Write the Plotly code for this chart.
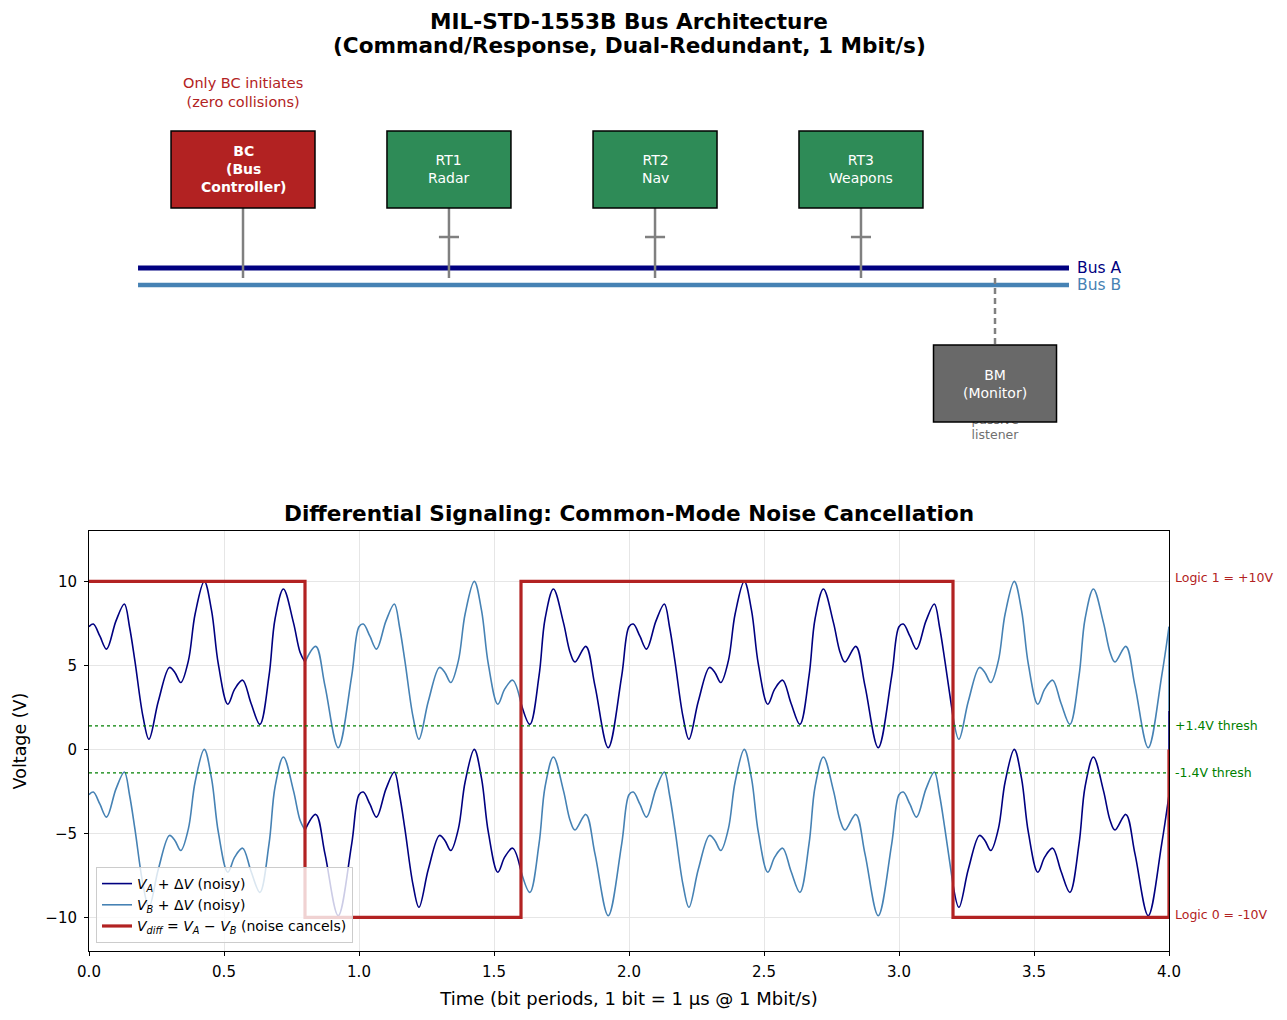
import plotly.graph_objects as go

# ---------------- data ----------------
# common-mode noise dV over one bit period (phase 0..1)
noise_phase = [0.000, 0.016, 0.040, 0.065, 0.100, 0.131, 0.150, 0.170, 0.200, 0.222,
               0.257, 0.298, 0.318, 0.340, 0.368, 0.393, 0.427, 0.454, 0.479, 0.514,
               0.540, 0.569, 0.600, 0.633, 0.667, 0.689, 0.720, 0.757, 0.782, 0.800,
               0.840, 0.874, 0.923, 0.973]
noise_dv = [2.30, 2.46, 1.75, 0.97, 2.65, 3.65, 2.30, 0.27, -3.05, -4.40,
            -2.12, -0.12, -0.42, -1.02, 0.27, 3.06, 5.00, 3.26, 0.07, -2.31,
            -1.40, -0.88, -2.25, -3.51, -0.60, 2.76, 4.55, 2.56, 0.77, 0.20,
            1.13, -1.22, -4.90, -0.62]
n_periods = 4
run_starts = [0.0, 0.8, 1.6, 3.2]
run_ends = [0.8, 1.6, 3.2, 4.0]
run_bits = [1, 0, 1, 0]
after_level = 0          # line level after the last bit
v_single = 5.0           # single-ended amplitude (V)
thresholds = [1.4, -1.4]

x_ticks = [0.0, 0.5, 1.0, 1.5, 2.0, 2.5, 3.0, 3.5, 4.0]
y_ticks = [-10, -5, 0, 5, 10]

node_names = ["BC<br>(Bus<br>Controller)", "RT1<br>Radar", "RT2<br>Nav", "RT3<br>Weapons"]
node_kinds = ["bc", "rt", "rt", "rt"]
monitor_name = "BM<br>(Monitor)"
monitor_note = ["passive", "listener"]
bc_note = "Only BC initiates<br>(zero collisions)"
bus_names = ["Bus A", "Bus B"]
title_lines = ["MIL-STD-1553B Bus Architecture", "(Command/Response, Dual-Redundant, 1 Mbit/s)"]

# ---------------- diagram layout (top panel units 0..10) ----------------
node_x = [1.426, 3.333, 5.241, 7.148]
node_w = {"bc": 1.333, "rt": 1.148}
node_fill = {"bc": "#b22222", "rt": "#2e8b57"}
box_y0, box_y1 = 6.39, 8.27
mon_x, mon_w, mon_y0, mon_y1 = 8.389, 1.139, 1.17, 3.05
note_y = [1.195, 0.829]
bus_y = [4.927, 4.512]
bus_colors = ["#000080", "#4682b4"]
bus_x0, bus_x1 = 0.454, 9.074
stub_end = 4.683
cross_y, cross_hw = 5.683, 0.093

FONT = "DejaVu Sans"

# ---------------- build series ----------------
t_all, dv_all = [], []
for k in range(n_periods):
    for p, d in zip(noise_phase, noise_dv):
        t_all.append(round(k + p, 4))
        dv_all.append(d)
t_all.append(float(n_periods))
dv_all.append(noise_dv[0])

def sgn(b):
    return 1 if b == 1 else -1

xa, ya, yb = [], [], []
cx, cya, cyb = [], [], []
for i, (s, e, b) in enumerate(zip(run_starts, run_ends, run_bits)):
    lev = sgn(b) * v_single
    for t, d in zip(t_all, dv_all):
        if s - 1e-9 <= t <= e + 1e-9:
            xa.append(t); ya.append(lev + d); yb.append(-lev + d)
    xa.append(None); ya.append(None); yb.append(None)
    d_end = dv_all[min(range(len(t_all)), key=lambda j: abs(t_all[j] - e))]
    nxt = sgn(run_bits[i + 1]) * v_single if i + 1 < len(run_bits) else after_level * v_single
    cx += [e, e, None]
    cya += [lev + d_end, nxt + d_end, None]
    cyb += [-lev + d_end, -nxt + d_end, None]

diff_x = run_starts + [run_ends[-1]]
diff_y = [2 * sgn(b) * v_single for b in run_bits] + [after_level * 2 * v_single]

fig = go.Figure()

# ---- top panel: passive listener note (partly under the monitor box) ----
fig.add_trace(go.Scatter(x=[mon_x] * len(monitor_note), y=note_y, mode="text", text=monitor_note,
                         textfont=dict(family=FONT, size=12.5, color="#707070"),
                         showlegend=False, hoverinfo="skip", xaxis="x", yaxis="y"))

# ---- bottom panel ----
navy, steel, red = "#000080", "#4682b4", "#b22222"
fig.add_trace(go.Scatter(x=xa, y=ya, mode="lines", line=dict(color=navy, width=1.6, shape="spline"),
                         name="<i>V<sub>A</sub></i> + Δ<i>V</i> (noisy)", legendgroup="a",
                         connectgaps=False, xaxis="x2", yaxis="y2"))
fig.add_trace(go.Scatter(x=cx, y=cya, mode="lines", line=dict(color=navy, width=1.6),
                         showlegend=False, legendgroup="a", xaxis="x2", yaxis="y2"))
fig.add_trace(go.Scatter(x=xa, y=yb, mode="lines", line=dict(color=steel, width=1.6, shape="spline"),
                         name="<i>V<sub>B</sub></i> + Δ<i>V</i> (noisy)", legendgroup="b",
                         connectgaps=False, xaxis="x2", yaxis="y2"))
fig.add_trace(go.Scatter(x=cx, y=cyb, mode="lines", line=dict(color=steel, width=1.6),
                         showlegend=False, legendgroup="b", xaxis="x2", yaxis="y2"))
fig.add_trace(go.Scatter(x=diff_x, y=diff_y, mode="lines", line=dict(color=red, width=3.2, shape="hv"),
                         name="<i>V<sub>diff</sub></i> = <i>V<sub>A</sub></i> − <i>V<sub>B</sub></i> (noise cancels)",
                         xaxis="x2", yaxis="y2"))

shapes = []
annotations = []

# buses
for by, bc in zip(bus_y, bus_colors):
    shapes.append(dict(type="line", xref="x", yref="y", x0=bus_x0, x1=bus_x1, y0=by, y1=by,
                       line=dict(color=bc, width=5 if bc == bus_colors[0] else 4.5)))
for by, bc, nm in zip(bus_y, bus_colors, bus_names):
    annotations.append(dict(xref="x", yref="y", x=bus_x1 + 0.06, y=by, text=nm, showarrow=False,
                            xanchor="left", yanchor="middle",
                            font=dict(family=FONT, size=15.5, color=bc)))
# stubs and boxes
for nx, kind, nm in zip(node_x, node_kinds, node_names):
    shapes.append(dict(type="line", xref="x", yref="y", x0=nx, x1=nx, y0=box_y0, y1=stub_end,
                       line=dict(color="#808080", width=2.5)))
    if kind == "rt":
        shapes.append(dict(type="line", xref="x", yref="y", x0=nx - cross_hw, x1=nx + cross_hw,
                           y0=cross_y, y1=cross_y, line=dict(color="#808080", width=2.5)))
    w = node_w[kind]
    shapes.append(dict(type="rect", xref="x", yref="y", x0=nx - w / 2, x1=nx + w / 2,
                       y0=box_y0, y1=box_y1, fillcolor=node_fill[kind],
                       line=dict(color="black", width=1.5), layer="above"))
    txt = "<b>" + nm + "</b>" if kind == "bc" else nm
    annotations.append(dict(xref="x", yref="y", x=nx, y=(box_y0 + box_y1) / 2, text=txt,
                            showarrow=False, font=dict(family=FONT, size=14, color="white")))
# monitor
shapes.append(dict(type="line", xref="x", yref="y", x0=mon_x, x1=mon_x, y0=stub_end, y1=mon_y1,
                   line=dict(color="#808080", width=2.5, dash="6px,4px")))
shapes.append(dict(type="rect", xref="x", yref="y", x0=mon_x - mon_w / 2, x1=mon_x + mon_w / 2,
                   y0=mon_y0, y1=mon_y1, fillcolor="#696969",
                   line=dict(color="black", width=1.5), layer="above"))
annotations.append(dict(xref="x", yref="y", x=mon_x, y=(mon_y0 + mon_y1) / 2, text=monitor_name,
                        showarrow=False, font=dict(family=FONT, size=14, color="white")))
annotations.append(dict(xref="x", yref="y", x=node_x[0], y=9.2, text=bc_note, showarrow=False,
                        font=dict(family=FONT, size=14.5, color="#b22222")))

# thresholds
for th in thresholds:
    shapes.append(dict(type="line", xref="x2 domain", yref="y2", x0=0, x1=1, y0=th, y1=th,
                       line=dict(color="green", width=1.2, dash="dot")))
right_notes = [(10, "Logic 1 = +10V", red, 4), (1.4, "+1.4V thresh", "green", 0),
               (-1.4, "-1.4V thresh", "green", 0), (-10, "Logic 0 = -10V", red, 3)]
for yv, txt, col, ys in right_notes:
    annotations.append(dict(xref="x2 domain", yref="y2", x=1.0, y=yv, xshift=4, yshift=ys,
                            text=txt, showarrow=False, xanchor="left", yanchor="middle",
                            font=dict(family=FONT, size=12.5, color=col)))

# titles
for ln, yp in zip(title_lines, [1.0427, 1.0168]):
    annotations.append(dict(xref="paper", yref="paper", x=0.5, y=yp, yanchor="middle",
                            text="<b>" + ln + "</b>", showarrow=False,
                            font=dict(family=FONT, size=21.6, color="black")))
annotations.append(dict(xref="paper", yref="paper", x=0.5, y=0.4905, yanchor="middle",
                        text="<b>Differential Signaling: Common-Mode Noise Cancellation</b>",
                        showarrow=False, font=dict(family=FONT, size=21.6, color="black")))

axis_common = dict(showline=True, linecolor="black", linewidth=1, mirror=True, ticks="outside",
                   ticklen=4, tickcolor="black", gridcolor="#e6e6e6", zeroline=False,
                   tickfont=dict(family=FONT, size=15, color="black"))

fig.update_layout(
    width=1287, height=1020,
    margin=dict(l=89, r=118, t=60, b=69),
    paper_bgcolor="white", plot_bgcolor="white",
    font=dict(family=FONT, color="black"),
    xaxis=dict(domain=[0, 1], range=[0, 10], visible=False, fixedrange=True),
    yaxis=dict(domain=[0.5398, 1], range=[0, 10], visible=False, fixedrange=True),
    xaxis2=dict(domain=[0, 1], anchor="y2", range=[0, 4], tickvals=x_ticks,
                ticktext=[f"{v:.1f}" for v in x_ticks], ticklabelstandoff=3,
                title=dict(text="Time (bit periods, 1 bit = 1 µs @ 1 Mbit/s)",
                           font=dict(family=FONT, size=18), standoff=12), **axis_common),
    yaxis2=dict(domain=[0, 0.4714], anchor="x2", range=[-12, 13], tickvals=y_ticks,
                ticklabelstandoff=4,
                title=dict(text="Voltage (V)", font=dict(family=FONT, size=17.5), standoff=14),
                **axis_common),
    legend=dict(x=0.0065, y=0.009, xanchor="left", yanchor="bottom",
                bgcolor="rgba(255,255,255,0.8)", bordercolor="#cccccc", borderwidth=1,
                font=dict(family=FONT, size=14, color="black"), tracegroupgap=0, itemwidth=30),
    shapes=shapes, annotations=annotations, showlegend=True,
)

fig.write_html("out.html")
